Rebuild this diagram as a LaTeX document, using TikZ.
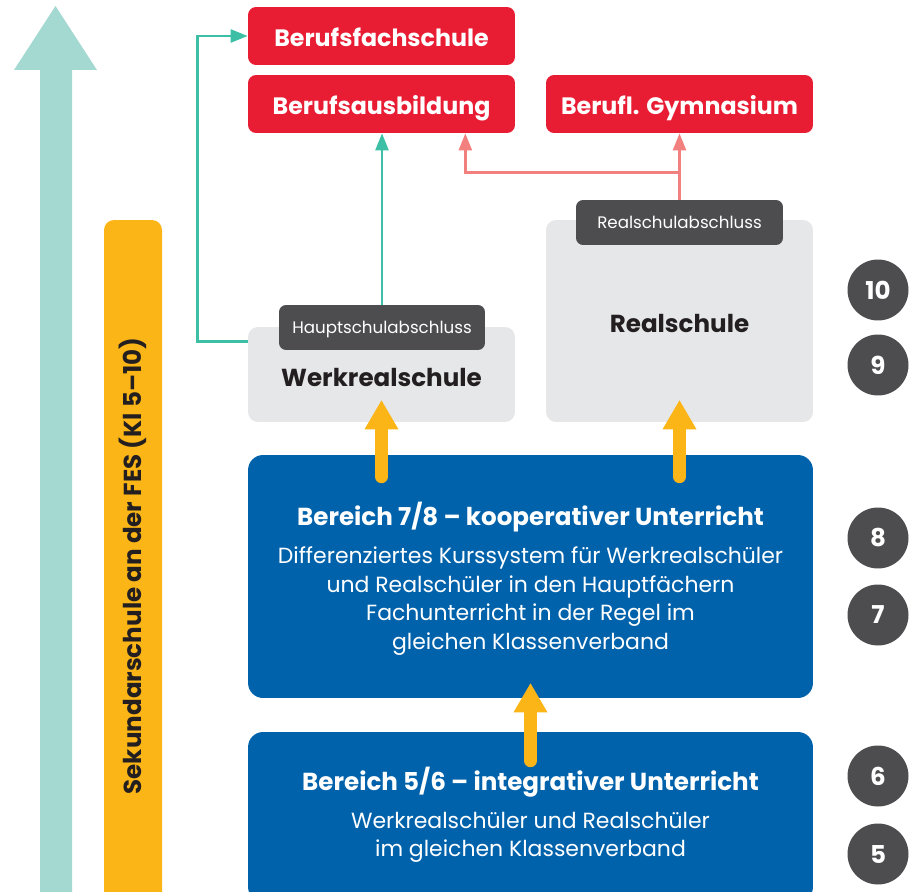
\documentclass[tikz,border=0pt]{standalone}
\usepackage{fontspec}
\setmainfont{Poppins}
\usetikzlibrary{arrows.meta,positioning,calc}
\definecolor{axisteal}{HTML}{A4D9D2}
\definecolor{lineteal}{HTML}{3DBFA6}
\definecolor{linepink}{HTML}{F2807F}
\definecolor{schoolred}{HTML}{E81D34}
\definecolor{panelgrey}{HTML}{E6E7E8}
\definecolor{darktag}{HTML}{4D4D4F}
\definecolor{areablue}{HTML}{0062AB}
\definecolor{baryellow}{HTML}{FBB516}
\definecolor{inkdark}{HTML}{231F20}
\tikzset{
  redbox/.style={fill=schoolred, rounded corners=0.16cm, text=white, inner sep=0pt,
    minimum width=5.34cm, minimum height=1.16cm, text height=11.6pt, text depth=0pt,
    font=\bfseries\fontsize{13.5}{16}\selectfont},
  greybox/.style={fill=panelgrey, rounded corners=0.2cm, inner sep=0pt, minimum width=5.34cm},
  tagbox/.style={fill=darktag, rounded corners=0.14cm, text=white, inner sep=0pt,
    minimum height=0.9cm, text height=6.7pt, text depth=0pt, font=\fontsize{9.5}{12}\selectfont},
  bluebox/.style={fill=areablue, rounded corners=0.3cm, inner sep=0pt, minimum width=11.3cm},
  schoolname/.style={text=inkdark, font=\bfseries\fontsize{14}{16}\selectfont},
  areatitle/.style={text=white, font=\bfseries\fontsize{14}{17}\selectfont},
  areatext/.style={text=white, align=center, font=\fontsize{12.5}{16.3}\selectfont},
  grade/.style={circle, fill=darktag, text=white, inner sep=0pt, minimum size=1.22cm,
    font=\bfseries\fontsize{14}{16}\selectfont},
  tealpath/.style={draw=lineteal, line width=1.4pt, -{Triangle[length=0.34cm,width=0.26cm]}},
  pinkpath/.style={draw=linepink, line width=1.4pt, -{Triangle[length=0.34cm,width=0.26cm]}},
  uparrow/.style={draw=baryellow, line width=0.26cm, line cap=round,
    -{Triangle[length=0.58cm,width=0.68cm,line width=0pt]}}
}
\begin{document}
\begin{tikzpicture}[x=0.02cm,y=-0.02cm]
  \useasboundingbox (0,0) rectangle (909,892);
  % axis arrow and bar
  \fill[axisteal] (40,905) -- (40,70) -- (14,70) -- (55.5,6) -- (97,70) -- (72,70) -- (72,905) -- cycle;
  \fill[baryellow, rounded corners=0.2cm] (104,220) rectangle (162,910);
  \node[rotate=90, text=inkdark, font=\bfseries\fontsize{14}{16}\selectfont] (sek) at (133,566)
    {Sekundarschule an der FES (Kl 5–10)};

  % destinations
  \node[redbox] (bfs) at (381.5,36) {Berufsfachschule};
  \node[redbox] (bab) at (381.5,104) {Berufsausbildung};
  \node[redbox] (bgym) at (679.5,104) {Berufl. Gymnasium};

  % school types
  \node[greybox, minimum height=1.9cm] (wrs) at (381.5,374.5) {};
  \node[schoolname] (wrsname) at (381.5,377) {Werkrealschule};
  \node[tagbox, minimum width=4.12cm] (hsa) at (382,327.5) {Hauptschulabschluss};
  \node[greybox, minimum height=4.04cm] (rs) at (679.5,321) {};
  \node[schoolname] (rsname) at (679.5,323) {Realschule};
  \node[tagbox, minimum width=4.14cm] (rsa) at (679.5,222.5) {Realschulabschluss};

  % areas
  \node[bluebox, minimum height=4.86cm] (b78) at (530.5,576.5) {};
  \node[areatitle] (t78) at (530.5,517) {Bereich 7/8 – kooperativer Unterricht};
  \node[areatext] (d78) at (530.5,601)
    {Differenziertes Kurssystem für Werkrealschüler\\und Realschüler in den Hauptfächern\\
     Fachunterricht in der Regel im\\gleichen Klassenverband};
  \node[bluebox, minimum height=3.4cm] (b56) at (530.5,817) {};
  \node[areatitle] (t56) at (530.5,782) {Bereich 5/6 – integrativer Unterricht};
  \node[areatext] (d56) at (530.5,837.5)
    {Werkrealschüler und Realschüler\\im gleichen Klassenverband};

  % grades
  \foreach \g/\y in {10/290,9/365,8/538,7/615,6/776,5/854}{
    \node[grade] (g\g) at (878,\y) {\g};
  }

  % connectors
  \draw[tealpath] ([yshift=-0.3cm]wrs.north west) -- ++(-50,0) |- (bfs.west);
  \draw[tealpath] (hsa.north) -- (hsa.north |- bab.south);
  \draw[pinkpath] (rsa.north) -- (rsa.north |- bgym.south);
  \draw[pinkpath] ([yshift=-0.78cm]bgym.south) -| ([xshift=-1cm]bab.south east);
  \draw[uparrow] ([yshift=-0.44cm]b78.north -| wrs.south) -- ([yshift=0.44cm]wrs.south);
  \draw[uparrow] ([yshift=-0.44cm]b78.north -| rs.south) -- ([yshift=0.44cm]rs.south);
  \draw[uparrow] ([yshift=-0.58cm]b56.north) -- ([yshift=0.3cm]b78.south);
\end{tikzpicture}
\end{document}
